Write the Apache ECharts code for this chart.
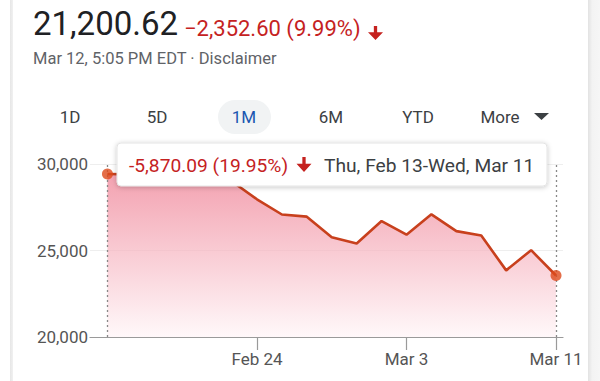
<!DOCTYPE html>
<html>
<head>
<meta charset="utf-8">
<script src="https://cdn.jsdelivr.net/npm/echarts@6/dist/echarts.min.js"></script>
<style>
  html, body { margin: 0; padding: 0; background: #ffffff; }
  #wrap { position: relative; width: 600px; height: 381px; overflow: hidden; background: #ffffff; }
  #leftEdge { position: absolute; left: 10px; top: 0; width: 3px; height: 381px; background: linear-gradient(to right, #e6e6e6, #f1f1f1); }
  #rightEdge { position: absolute; left: 588px; top: 0; width: 12px; height: 381px; background: linear-gradient(to right, #e2e2e2, #f3f3f3 35%, #f6f6f6); }
  #chart { position: absolute; left: 0; top: 0; width: 600px; height: 381px; }
</style>
</head>
<body>
<div id="wrap">
  <div id="leftEdge"></div>
  <div id="rightEdge"></div>
  <div id="chart"></div>
</div>
<script>
// ---- data ----
const dates = ['Feb 13','Feb 14','Feb 18','Feb 19','Feb 20','Feb 21','Feb 24','Feb 25','Feb 26','Feb 27','Feb 28','Mar 2','Mar 3','Mar 4','Mar 5','Mar 6','Mar 9','Mar 10','Mar 11'];
const closes = [29423, 29398, 29232, 29348, 29219, 28992, 27961, 27081, 26957, 25766, 25409, 26703, 25917, 27091, 26121, 25865, 23851, 25018, 23553];
const xTickLabels = ['Feb 24', 'Mar 3', 'Mar 11'];
const yTickValues = [20000, 25000, 30000];
const rangeButtons = ['1D', '5D', '1M', '6M', 'YTD', 'More'];
const headline = { price: '21,200.62', change: '\u22122,352.60 (9.99%)', stamp: 'Mar 12, 5:05 PM EDT \u00b7 Disclaimer' };
const rangeInfo = { change: '-5,870.09 (19.95%)', period: 'Thu, Feb 13-Wed, Mar 11' };

// ---- chart ----
const FONT = 'Roboto';
const RED = '#c5221f';
const chart = echarts.init(document.getElementById('chart'), null, { renderer: 'svg' });

const lineData = closes.map((v, i) => [i, v]);
const endPoints = [lineData[0], lineData[lineData.length - 1]];
const tickIdx = xTickLabels.map(l => dates.indexOf(l));

function arrow(cx, top, w, h, color) {
  const shaftW = w * 0.22;
  const headH = h * 0.55;
  return {
    type: 'polygon', z: 100,
    shape: { points: [
      [cx - shaftW / 2, top], [cx + shaftW / 2, top],
      [cx + shaftW / 2, top + h - headH], [cx + w / 2, top + h - headH],
      [cx, top + h], [cx - w / 2, top + h - headH],
      [cx - shaftW / 2, top + h - headH]
    ] },
    style: { fill: color }
  };
}

const btnX = [70, 157, 244, 331, 418, 500];
const graphics = [
  { type: 'text', left: 33, top: 7, z: 100, style: { text: headline.price, font: '400 33px ' + FONT, fill: '#202124' } },
  { type: 'text', left: 184, top: 17, z: 100, style: { text: headline.change, font: '400 22px ' + FONT, fill: RED } },
  arrow(375.5, 26, 15, 14, RED),
  { type: 'text', left: 33, top: 50, z: 100, style: { text: headline.stamp, font: '400 16.5px ' + FONT, fill: '#5f6368' } },
  { type: 'rect', z: 90, shape: { x: 218, y: 100, width: 53, height: 34, r: 17 }, style: { fill: '#f1f3f4' } }
];
rangeButtons.forEach((b, i) => {
  graphics.push({
    type: 'text', z: 100, x: btnX[i], y: 117,
    style: { text: b, font: '400 17px ' + FONT, fill: b === '1M' ? '#1a56b0' : '#3c4043', align: 'center', verticalAlign: 'middle' }
  });
});
graphics.push({ type: 'polygon', z: 100, shape: { points: [[534, 113], [549, 113], [541.5, 120]] }, style: { fill: '#3c4043' } });
// range tooltip box
graphics.push({
  type: 'rect', z: 95, shape: { x: 117, y: 143, width: 430, height: 43, r: 4 },
  style: { fill: '#ffffff', stroke: '#e4e4e4', lineWidth: 1, shadowBlur: 5, shadowOffsetY: 1, shadowColor: 'rgba(0,0,0,0.22)' }
});
graphics.push({ type: 'text', z: 100, x: 129, y: 165, style: { text: rangeInfo.change, font: '400 19.2px ' + FONT, fill: RED, verticalAlign: 'middle' } });
graphics.push(arrow(304, 157, 15, 15, RED));
graphics.push({ type: 'text', z: 100, x: 324, y: 165, style: { text: rangeInfo.period, font: '400 19.2px ' + FONT, fill: '#3c4043', verticalAlign: 'middle' } });

const option = {
  animation: false,
  textStyle: { fontFamily: FONT },
  grid: { left: 90, right: 37, top: 164, bottom: 44 },
  xAxis: {
    type: 'value', min: -0.7, max: 18.28,
    axisLine: { show: true, lineStyle: { color: '#9a9a9a', width: 1.2 } },
    axisTick: { show: true, customValues: tickIdx, length: 13, lineStyle: { color: '#9a9a9a', width: 1.2 } },
    axisLabel: { customValues: tickIdx, formatter: v => dates[Math.round(v)], fontSize: 17, color: '#555555', margin: 13, fontFamily: FONT },
    splitLine: { show: false }
  },
  yAxis: {
    type: 'value', min: 20000, max: 30000, interval: 5000,
    axisLine: { show: false }, axisTick: { show: false },
    axisLabel: { fontSize: 17, color: '#555555', margin: 2, fontFamily: FONT,
      formatter: v => yTickValues.includes(v) ? v.toLocaleString('en-US') : '' },
    splitLine: { show: true, lineStyle: { color: '#eeeeee', width: 1 } }
  },
  series: [
    {
      type: 'line', data: lineData, symbol: 'none', z: 3,
      lineStyle: { color: '#c8401d', width: 2.6 },
      areaStyle: { color: new echarts.graphic.LinearGradient(0, 0, 0, 1, [
        { offset: 0, color: '#ee7a8f' }, { offset: 1, color: '#fff5f7' }
      ]) },
      markLine: {
        silent: true, symbol: 'none', label: { show: false },
        lineStyle: { type: [2, 3], color: '#888888', width: 1.3 },
        data: [{ xAxis: 0 }, { xAxis: closes.length - 1 }]
      }
    },
    {
      type: 'scatter', data: endPoints, symbol: 'circle', symbolSize: 11, z: 5,
      itemStyle: { color: '#dd4a1c' }
    }
  ],
  graphic: graphics
};
chart.setOption(option);
</script>
</body>
</html>
